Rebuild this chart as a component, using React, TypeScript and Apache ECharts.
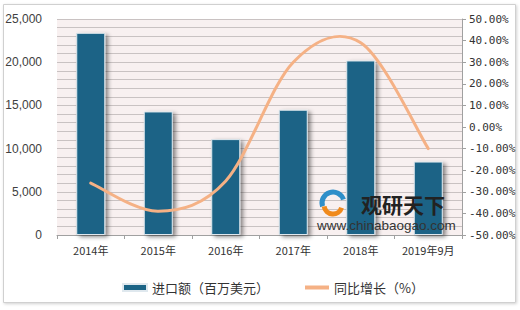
import React, { useEffect, useRef } from "react";
import * as echarts from "echarts";

const categories = ["2014年", "2015年", "2016年", "2017年", "2018年", "2019年9月"];
const importValues = [23400, 14300, 11100, 14500, 20200, 8500];
const growthValues = [-26, -39, -25, 30, 39, -10];
const barName = "进口额（百万美元）";
const lineName = "同比增长（%）";

export default function App() {
  const ref = useRef<HTMLDivElement>(null);
  useEffect(() => {
    const chart = echarts.init(ref.current!, null, { renderer: "svg" });
    const lineColor = "#f5b185";
    chart.setOption({
      animation: false,
      backgroundColor: "#ffffff",
      graphic: [
        {
          type: "rect",
          z: -10,
          shape: { x: 3.5, y: 4.5, width: 512, height: 298 },
          style: {
            fill: "#ffffff",
            stroke: "#d0d0d0",
            lineWidth: 1,
            shadowColor: "rgba(0,0,0,0.18)",
            shadowBlur: 3,
            shadowOffsetX: 1,
            shadowOffsetY: 1,
          },
        },
        {
          type: "arc",
          z: 100,
          shape: { cx: 333, cy: 203, r: 11, startAngle: Math.PI * 0.9, endAngle: Math.PI * 1.9 },
          style: { stroke: "#2f8fc9", lineWidth: 5, fill: "none" },
        },
        {
          type: "arc",
          z: 100,
          shape: { cx: 333, cy: 205, r: 9, startAngle: Math.PI * 0.1, endAngle: Math.PI * 0.95 },
          style: { stroke: "#f08a1c", lineWidth: 5, fill: "none" },
        },
        {
          type: "text",
          z: 100,
          x: 361,
          y: 204,
          style: {
            text: "观研天下",
            font: "bold 21px 'Noto Sans CJK SC'",
            fill: "#222222",
            textVerticalAlign: "middle",
          },
        },
        {
          type: "text",
          z: 100,
          x: 317,
          y: 225,
          style: {
            text: "www.chinabaogao.com",
            font: "13.5px 'Liberation Sans', Arial",
            fill: "#333333",
            textVerticalAlign: "middle",
          },
        },
      ],
      legend: {
        left: 117,
        top: 276,
        itemWidth: 24,
        itemHeight: 7,
        itemGap: 36,
        textStyle: { fontSize: 13, color: "#333", fontFamily: "'Noto Sans CJK SC'" },
        data: [
          { name: barName, icon: "rect" },
          { name: lineName, icon: "path://M0,0 L24,0 L24,4 L0,4 Z" },
        ],
      },
      grid: {
        left: 57,
        right: 58,
        top: 19,
        bottom: 75,
        show: true,
        backgroundColor: "#f8f0f0",
        borderWidth: 0,
      },
      xAxis: {
        type: "category",
        data: categories,
        axisLine: { show: true, lineStyle: { color: "#a0a0a0" } },
        axisTick: { show: true, lineStyle: { color: "#a0a0a0" }, length: 4 },
        axisLabel: { interval: 0, color: "#333", fontSize: 11, margin: 9, fontFamily: "'Noto Sans CJK SC'" },
      },
      yAxis: [
        {
          type: "value",
          min: 0,
          max: 25000,
          interval: 5000,
          axisLine: { show: false },
          axisTick: { show: false },
          axisLabel: {
            color: "#404040",
            fontSize: 12,
            margin: 15,
            fontFamily: "'Liberation Sans', Arial",
            formatter: (v: number) => v.toLocaleString("en-US"),
          },
          splitLine: { show: true, lineStyle: { color: "#c9c2c2" } },
          minorTick: { show: false, splitNumber: 5 },
          minorSplitLine: { show: true, lineStyle: { color: "#c9c2c2" } },
        },
        {
          type: "value",
          min: -50,
          max: 50,
          interval: 10,
          position: "right",
          axisLine: { show: true, lineStyle: { color: "#a0a0a0" } },
          axisTick: { show: true, lineStyle: { color: "#a0a0a0" }, length: 4 },
          axisLabel: {
            color: "#333",
            fontSize: 11,
            margin: 7,
            fontFamily: "'DejaVu Sans Mono'",
            formatter: (v: number) => v.toFixed(2) + "%",
          },
          splitLine: { show: false },
        },
      ],
      series: [
        {
          name: barName,
          type: "bar",
          data: importValues,
          barWidth: 29,
          itemStyle: {
            color: "#1b6486",
            borderColor: "#dfe8ee",
            borderWidth: 1,
            shadowColor: "rgba(0,0,0,0.45)",
            shadowBlur: 4,
            shadowOffsetX: 3,
            shadowOffsetY: 2,
          },
        },
        {
          name: lineName,
          type: "custom",
          yAxisIndex: 1,
          z: 3,
          data: growthValues.map((v, i) => [i, v]),
          encode: { x: 0, y: 1 },
          itemStyle: { color: lineColor },
          renderItem: (params: any, api: any) => {
            if (params.dataIndex !== 0) return null;
            const pts = growthValues.map((v, i) => api.coord([i, v]));
            const n = pts.length;
            let d = `M${pts[0][0]},${pts[0][1]}`;
            for (let i = 0; i < n - 1; i++) {
              const p0 = pts[Math.max(i - 1, 0)];
              const p1 = pts[i];
              const p2 = pts[i + 1];
              const p3 = pts[Math.min(i + 2, n - 1)];
              const c1x = p1[0] + (p2[0] - p0[0]) / 6;
              const c1y = p1[1] + (p2[1] - p0[1]) / 6;
              const c2x = p2[0] - (p3[0] - p1[0]) / 6;
              const c2y = p2[1] - (p3[1] - p1[1]) / 6;
              d += ` C${c1x},${c1y} ${c2x},${c2y} ${p2[0]},${p2[1]}`;
            }
            return {
              type: "path",
              shape: { pathData: d },
              style: { stroke: lineColor, lineWidth: 3, fill: "none", lineCap: "round" },
            };
          },
        },
      ],
    });
    return () => chart.dispose();
  }, []);
  return (
    <div
      ref={ref}
      style={{ position: "fixed", left: 0, top: 0, width: 520, height: 310 }}
    />
  );
}
